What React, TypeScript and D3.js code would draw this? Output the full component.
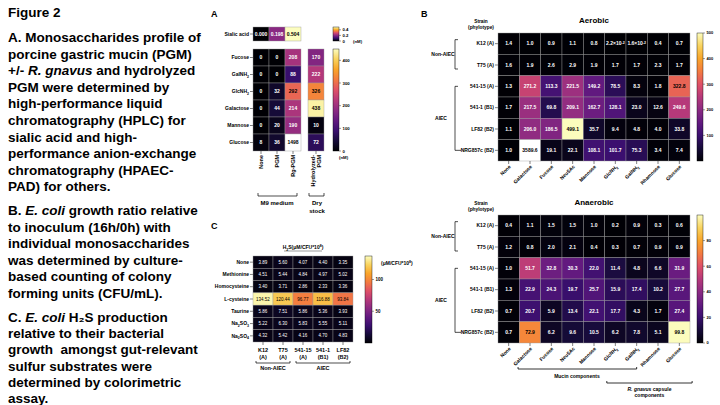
import React from 'react';
import * as d3 from 'd3';

const FONT = "'Liberation Sans', Arial, Helvetica, sans-serif";

// ---------- Left text ----------
const figTitle = 'Figure 2';
const textA = [
  'A. Monosaccharides profile of',
  'porcine gastric mucin (PGM)',
  '+/- ~R. gnavus~ and hydrolyzed',
  'PGM were determined by',
  'high-performance liquid',
  'chromatography (HPLC) for',
  'sialic acid and high-',
  'performance anion-exchange',
  'chromatography (HPAEC-',
  'PAD) for others.',
];
const textB = [
  'B. ~E. coli~ growth ratio relative',
  'to inoculum (16h/0h) with',
  'individual monosaccharides',
  'was determined by culture-',
  'based counting of colony',
  'forming units (CFU/mL).',
];
const textC = [
  'C. ~E. coli~ H₂S production',
  'relative to their bacterial',
  'growth  amongst gut-relevant',
  'sulfur substrates were',
  'determined by colorimetric',
  'assay.',
];

// ---------- Panel A ----------
const aCols = ['None', 'PGM', 'Rg-PGM'];
const aDryColLines = ['Hydrolyzed-', 'PGM'];
const aSialic = [0.0, 0.198, 0.504];
const aRows = ['Fucose', 'GalNH_2', 'GlcNH_2', 'Galactose', 'Mannose', 'Glucose'];
const aM9 = [
  [0, 0, 208],
  [0, 0, 88],
  [0, 32, 292],
  [0, 44, 214],
  [0, 20, 190],
  [8, 36, 1498],
];
const aDry = [170, 222, 326, 438, 10, 72];
const aTicks = [0, 100, 200, 300, 400];
const aSialicTicks = [0, 0.2, 0.4];
const aMax = 450;
const aSialicMax = 0.5;

// ---------- Panel B ----------
const bCols = ['None', 'Galactose', 'Fucose', 'Neu5Ac', 'Mannose', 'GlcNH_2', 'GalNH_2', 'Rhamnose', 'Glucose'];
const bRows = ['K12 (A)', 'T75 (A)', '541-15 (A)', '541-1 (B1)', 'LF82 (B2)', 'NRG857c (B2)'];
const bAerobic = [
  [1.4, 1.0, 0.9, 1.1, 0.8, 0.022, 0.016, 0.4, 0.7],
  [1.6, 1.9, 2.6, 2.9, 1.9, 1.7, 1.7, 2.3, 1.7],
  [1.3, 271.2, 113.3, 221.5, 149.2, 78.5, 8.3, 1.8, 322.8],
  [1.7, 217.5, 69.8, 209.1, 162.7, 128.1, 23.0, 12.6, 249.6],
  [1.1, 206.0, 186.5, 499.1, 35.7, 9.4, 4.8, 4.0, 33.8],
  [1.0, 3589.6, 19.1, 22.1, 108.1, 101.7, 75.3, 3.4, 7.4],
];
const bAnaerobic = [
  [0.4, 1.1, 1.5, 1.5, 1.0, 0.2, 0.9, 0.3, 0.6],
  [1.2, 0.8, 2.0, 2.1, 0.4, 0.3, 0.7, 0.9, 0.9],
  [1.0, 51.7, 32.8, 30.3, 22.0, 11.4, 4.8, 6.6, 31.9],
  [1.3, 22.9, 24.3, 19.7, 25.7, 15.9, 17.4, 10.2, 27.7],
  [0.7, 20.7, 5.9, 13.4, 22.1, 17.7, 4.3, 1.7, 27.4],
  [0.7, 72.9, 6.2, 9.6, 10.5, 6.2, 7.8, 5.1, 99.8],
];
const bAeroTicks = [100, 200, 300, 400, 500];
const bAnaeroTicks = [0, 20, 40, 60, 80];
const bAeroMax = 500;
const bAnaeroMax = 100;
const bGroups = [
  { label: 'Non-AIEC', from: 0, to: 1 },
  { label: 'AIEC', from: 2, to: 5 },
];

// ---------- Panel C ----------
const cCols = [['K12', '(A)'], ['T75', '(A)'], ['541-15', '(A)'], ['541-1', '(B1)'], ['LF82', '(B2)']];
const cRows = ['None', 'Methionine', 'Homocysteine', 'L-cysteine', 'Taurine', 'Na_2SO_3', 'Na_2SO_4'];
const cValues = [
  [3.89, 5.6, 4.07, 4.4, 3.35],
  [4.51, 5.44, 4.84, 4.97, 5.02],
  [3.4, 3.71, 2.86, 2.33, 3.36],
  [134.52, 120.44, 96.77, 116.88, 93.84],
  [5.86, 7.51, 5.86, 5.36, 3.93],
  [5.22, 6.3, 5.83, 5.55, 5.11],
  [4.32, 5.42, 4.16, 4.7, 4.83],
];
const cTicks = [50, 100];
const cMax = 137;
const cGroups = [
  { label: 'Non-AIEC', from: 0, to: 1 },
  { label: 'AIEC', from: 2, to: 4 },
];

// ---------- colour ----------
const paletteStops = ['#000004', '#160b39', '#3a0f6e', '#62197f', '#8b2a82', '#b6397a', '#df5167', '#f37b40', '#f9a52a', '#f9d35e', '#fcfdbf'];
const interp = d3.piecewise(d3.interpolateRgb, paletteStops);
function colorOf(v: number, max: number) {
  if (v > max * 1.2) return '#ffffff';
  return interp(Math.max(0, Math.min(1, v / max)));
}
function textColorOf(v: number, max: number) {
  return v / max > 0.6 ? '#000' : '#fff';
}

// rich text: ~ toggles italic, _n subscript, ^n superscript
function rich(s: string, fs: number) {
  const tokens = s.split(/(~|[_^]-?[0-9]+)/).filter((t) => t !== '');
  let italic = false;
  let shift = 0;
  const out: any[] = [];
  let k = 0;
  for (const t of tokens) {
    if (t === '~') {
      italic = !italic;
      continue;
    }
    if (t[0] === '_' || t[0] === '^') {
      const d = t[0] === '_' ? fs * 0.3 : -fs * 0.38;
      out.push(
        <tspan key={k++} dy={d - shift} fontSize={fs * 0.7} fontStyle={italic ? 'italic' : 'normal'}>
          {t.slice(1)}
        </tspan>
      );
      shift = d;
    } else {
      out.push(
        <tspan key={k++} dy={-shift} fontStyle={italic ? 'italic' : 'normal'}>
          {t}
        </tspan>
      );
      shift = 0;
    }
  }
  return out;
}

function fmtB(v: number) {
  if (v < 0.1) {
    const e = Math.floor(Math.log10(v));
    const m = v / Math.pow(10, e);
    return `${m.toFixed(1)}×10^${e}`;
  }
  return v.toFixed(1);
}

type HeatProps = {
  x: number;
  y: number;
  w: number;
  h: number;
  values: number[][];
  labels: string[][];
  max: number;
  fs: number;
  weight?: string;
};

function Heat({ x, y, w, h, values, labels, max, fs, weight = 'bold' }: HeatProps) {
  const nr = values.length;
  const nc = values[0].length;
  const xs = d3.scaleBand<number>().domain(d3.range(nc)).range([x, x + w]);
  const ys = d3.scaleBand<number>().domain(d3.range(nr)).range([y, y + h]);
  return (
    <g>
      {values.map((row, i) =>
        row.map((v, j) => (
          <rect
            key={`${i}-${j}`}
            x={xs(j)}
            y={ys(i)}
            width={xs.bandwidth()}
            height={ys.bandwidth()}
            fill={colorOf(v, max)}
            stroke="#9a9a9a"
            strokeWidth={0.4}
          />
        ))
      )}
      {values.map((row, i) =>
        row.map((v, j) => (
          <text
            key={`t${i}-${j}`}
            x={(xs(j) as number) + xs.bandwidth() / 2}
            y={(ys(i) as number) + ys.bandwidth() / 2 + fs * 0.35}
            fontSize={fs}
            fontWeight={weight}
            textAnchor="middle"
            fill={textColorOf(v, max)}
          >
            {rich(labels[i][j], fs)}
          </text>
        ))
      )}
    </g>
  );
}

function RowLabels({ x, y, h, rows, fs }: { x: number; y: number; h: number; rows: string[]; fs: number }) {
  const ys = d3.scaleBand<number>().domain(d3.range(rows.length)).range([y, y + h]);
  return (
    <g>
      {rows.map((r, i) => {
        const cy = (ys(i) as number) + ys.bandwidth() / 2;
        return (
          <g key={i}>
            <line x1={x - 3} x2={x} y1={cy} y2={cy} stroke="#000" strokeWidth={0.5} />
            <text x={x - 4} y={cy + fs * 0.35} fontSize={fs} fontWeight="bold" textAnchor="end">
              {rich(r, fs)}
            </text>
          </g>
        );
      })}
    </g>
  );
}

function ColorBar({
  id,
  x,
  y,
  w,
  h,
  max,
  ticks,
  fs,
  fmt,
}: {
  id: string;
  x: number;
  y: number;
  w: number;
  h: number;
  max: number;
  ticks: number[];
  fs: number;
  fmt: (v: number) => string;
}) {
  const s = d3.scaleLinear().domain([0, max]).range([y + h, y]);
  const stops = d3.range(0, 1.0001, 0.05);
  return (
    <g>
      <defs>
        <linearGradient id={id} x1="0" y1="1" x2="0" y2="0">
          {stops.map((t, i) => (
            <stop key={i} offset={t} stopColor={interp(t)} />
          ))}
        </linearGradient>
      </defs>
      <rect x={x} y={y} width={w} height={h} fill={`url(#${id})`} stroke="#000" strokeWidth={0.4} />
      {ticks.map((t, i) => (
        <g key={i}>
          <line x1={x + w} x2={x + w + 2} y1={s(t)} y2={s(t)} stroke="#000" strokeWidth={0.4} />
          <text x={x + w + 3.5} y={s(t) + fs * 0.35} fontSize={fs} fontWeight="bold">
            {fmt(t)}
          </text>
        </g>
      ))}
    </g>
  );
}

function PanelA() {
  const x0 = 253;
  const cw = 16;
  const sy = 27;
  const sh = 14;
  const my = 49;
  const mh = 102;
  const dx = 308;
  const fs = 5;
  const colCenters = d3.scaleBand<number>().domain(d3.range(3)).range([x0, x0 + 3 * cw]);
  return (
    <g>
      <text x={211} y={17} fontSize={9} fontWeight="bold">A</text>
      {/* sialic */}
      <RowLabels x={x0} y={sy} h={sh} rows={['Sialic acid']} fs={fs} />
      <Heat x={x0} y={sy} w={3 * cw} h={sh} values={[aSialic]} labels={[aSialic.map((v) => v.toFixed(3))]} max={aSialicMax} fs={fs} />
      <ColorBar id="gaS" x={333} y={sy} w={6} h={sh} max={aSialicMax} ticks={aSialicTicks} fs={4.3} fmt={(v) => (v === 0 ? '0' : v.toFixed(1))} />
      <text x={353} y={sy + sh + 1.5} fontSize={4.3} fontWeight="bold">(nM)</text>
      {/* main */}
      <RowLabels x={x0} y={my} h={mh} rows={aRows} fs={fs} />
      <Heat x={x0} y={my} w={3 * cw} h={mh} values={aM9} labels={aM9.map((r) => r.map((v) => String(v)))} max={aMax} fs={fs} />
      <Heat x={dx} y={my} w={cw} h={mh} values={aDry.map((v) => [v])} labels={aDry.map((v) => [String(v)])} max={aMax} fs={fs} />
      <ColorBar id="gaM" x={333} y={my} w={6} h={mh} max={aMax} ticks={aTicks} fs={4.3} fmt={(v) => String(v)} />
      <text x={339} y={my + mh + 8} fontSize={4.3} fontWeight="bold">(nM)</text>
      {/* column labels */}
      {aCols.map((c, j) => {
        const cx = (colCenters(j) as number) + cw / 2;
        return (
          <g key={j}>
            <line x1={cx} x2={cx} y1={my + mh} y2={my + mh + 3} stroke="#000" strokeWidth={0.5} />
            <text transform={`translate(${cx + 1.8},${my + mh + 4}) rotate(-90)`} fontSize={5.5} fontWeight="bold" textAnchor="end">
              {c}
            </text>
          </g>
        );
      })}
      <line x1={dx + cw / 2} x2={dx + cw / 2} y1={my + mh} y2={my + mh + 3} stroke="#000" strokeWidth={0.5} />
      {aDryColLines.map((l, k) => (
        <text key={k} transform={`translate(${dx + cw / 2 - 1 + k * 6},${my + mh + 4}) rotate(-90)`} fontSize={5.5} fontWeight="bold" textAnchor="end">
          {l}
        </text>
      ))}
      {/* brackets */}
      <path d={`M${x0 + 5},${193} L${x0 + 5},${196} L${x0 + 3 * cw - 4},${196} L${x0 + 3 * cw - 4},${193}`} fill="none" stroke="#000" strokeWidth={0.7} />
      <text x={x0 + 1.5 * cw} y={205} fontSize={6} fontWeight="bold" textAnchor="middle">M9 medium</text>
      <path d={`M${dx + 1},${193} L${dx + 1},${196} L${dx + cw},${196} L${dx + cw},${193}`} fill="none" stroke="#000" strokeWidth={0.7} />
      <text x={dx + cw / 2 + 1} y={205} fontSize={6} fontWeight="bold" textAnchor="middle">Dry</text>
      <text x={dx + cw / 2 + 1} y={213} fontSize={6} fontWeight="bold" textAnchor="middle">stock</text>
    </g>
  );
}

function PanelBBlock({
  top,
  title,
  values,
  max,
  ticks,
  id,
  showBottom,
}: {
  top: number;
  title: string;
  values: number[][];
  max: number;
  ticks: number[];
  id: string;
  showBottom: boolean;
}) {
  const x0 = 498;
  const w = 192;
  const h = 128;
  const fs = 5;
  const xs = d3.scaleBand<number>().domain(d3.range(bCols.length)).range([x0, x0 + w]);
  const ys = d3.scaleBand<number>().domain(d3.range(bRows.length)).range([top, top + h]);
  const rc = (i: number) => (ys(i) as number) + ys.bandwidth() / 2;
  const cc = (j: number) => (xs(j) as number) + xs.bandwidth() / 2;
  return (
    <g>
      <text x={x0 + w / 2} y={top - 10} fontSize={8} fontWeight="bold" textAnchor="middle">{title}</text>
      <text x={481} y={top - 10} fontSize={4.8} fontWeight="bold" textAnchor="middle">Strain</text>
      <text x={481} y={top - 4} fontSize={4.8} fontWeight="bold" textAnchor="middle">(phylotype)</text>
      <RowLabels x={x0} y={top} h={h} rows={bRows} fs={fs} />
      <Heat x={x0} y={top} w={w} h={h} values={values} labels={values.map((r) => r.map(fmtB))} max={max} fs={fs} />
      <ColorBar id={id} x={697} y={top} w={6} h={h} max={max} ticks={ticks} fs={4} fmt={(v) => String(v)} />
      {bGroups.map((g, k) => {
        const y1 = rc(g.from) - (k === 0 ? 4 : 0);
        const y2 = rc(g.to) + (k === 0 ? 4 : 0);
        const xe = k === 0 ? 458 : 461;
        return (
          <g key={k}>
            <path d={`M458,${y1} L455,${y1} L455,${y2} L${xe},${y2}`} fill="none" stroke="#000" strokeWidth={0.7} />
            <text x={k === 0 ? 443 : 441} y={(y1 + y2) / 2 + 2} fontSize={5} fontWeight="bold" textAnchor="middle">{g.label}</text>
          </g>
        );
      })}
      {bCols.map((c, j) => (
        <g key={j}>
          <line x1={cc(j)} x2={cc(j)} y1={top + h} y2={top + h + 3} stroke="#000" strokeWidth={0.5} />
          <text transform={`translate(${cc(j) + 2.5},${top + h + 6}) rotate(-45)`} fontSize={5} fontWeight="bold" textAnchor="end">
            {rich(c, 5)}
          </text>
        </g>
      ))}
      {showBottom && (
        <g>
          <path d={`M${x0 + 0.94 * xs.bandwidth()},${top + h + 26} L${x0 + 6.5 * xs.bandwidth()},${top + h + 26}`} stroke="#000" strokeWidth={0.8} />
          <line x1={x0 + 0.94 * xs.bandwidth()} x2={x0 + 0.94 * xs.bandwidth()} y1={top + h + 24} y2={top + h + 26} stroke="#000" strokeWidth={0.8} />
          <line x1={x0 + 6.5 * xs.bandwidth()} x2={x0 + 6.5 * xs.bandwidth()} y1={top + h + 24} y2={top + h + 26} stroke="#000" strokeWidth={0.8} />
          <text x={x0 + 3.7 * xs.bandwidth()} y={top + h + 35} fontSize={5} fontWeight="bold" textAnchor="middle">Mucin components</text>
          <path d={`M${x0 + 5.1 * xs.bandwidth()},${top + h + 38} L${x0 + 5.1 * xs.bandwidth()},${top + h + 40} L${x0 + 9.1 * xs.bandwidth()},${top + h + 40} L${x0 + 9.1 * xs.bandwidth()},${top + h + 38}`} fill="none" stroke="#000" strokeWidth={0.8} />
          <text x={x0 + 7.1 * xs.bandwidth()} y={top + h + 48} fontSize={5} fontWeight="bold" textAnchor="middle">
            {rich('~R. gnavus~ capsule', 5)}
          </text>
          <text x={x0 + 7.1 * xs.bandwidth()} y={top + h + 54} fontSize={5} fontWeight="bold" textAnchor="middle">components</text>
        </g>
      )}
    </g>
  );
}

function PanelC() {
  const x0 = 253;
  const w = 100;
  const top = 256;
  const h = 86;
  const xs = d3.scaleBand<number>().domain(d3.range(cCols.length)).range([x0, x0 + w]);
  const cc = (j: number) => (xs(j) as number) + xs.bandwidth() / 2;
  return (
    <g>
      <text x={211} y={229} fontSize={9} fontWeight="bold">C</text>
      <text x={x0 + w / 2} y={249} fontSize={5} fontWeight="bold" textAnchor="middle">
        {rich('H_2S(μM/CFU*10^8)', 5)}
      </text>
      <line x1={x0 + w / 2 - 19} x2={x0 + w / 2 + 19} y1={251} y2={251} stroke="#000" strokeWidth={0.4} />
      <RowLabels x={x0} y={top} h={h} rows={cRows} fs={5} />
      <Heat x={x0} y={top} w={w} h={h} values={cValues} labels={cValues.map((r) => r.map((v) => v.toFixed(2)))} max={cMax} fs={4.5} weight="normal" />
      <ColorBar id="gc" x={365} y={top} w={7} h={87} max={cMax} ticks={cTicks} fs={4.5} fmt={(v) => String(v)} />
      <text x={381} y={265} fontSize={5} fontWeight="bold">{rich('(μM/CFU*10^8)', 5)}</text>
      {cCols.map((c, j) => (
        <g key={j}>
          <line x1={cc(j)} x2={cc(j)} y1={top + h} y2={top + h + 3} stroke="#000" strokeWidth={0.5} />
          <text x={cc(j)} y={top + h + 10} fontSize={5.5} fontWeight="bold" textAnchor="middle">{c[0]}</text>
          <text x={cc(j)} y={top + h + 17} fontSize={5.5} fontWeight="bold" textAnchor="middle">{c[1]}</text>
        </g>
      ))}
      {cGroups.map((g, k) => {
        const x1 = (xs(g.from) as number) + 3;
        const x2 = (xs(g.to) as number) + xs.bandwidth() - 3;
        const yb = top + h + 21;
        return (
          <g key={k}>
            <path d={`M${x1},${yb - 2} L${x1},${yb} L${x2},${yb} L${x2},${yb - 2}`} fill="none" stroke="#000" strokeWidth={0.7} />
            <text x={(x1 + x2) / 2} y={yb + 7} fontSize={5.5} fontWeight="bold" textAnchor="middle">{g.label}</text>
          </g>
        );
      })}
    </g>
  );
}

function LeftText() {
  const fs = 13.5;
  return (
    <g fontSize={fs} fontWeight="bold">
      <text x={8} y={16.5}>{figTitle}</text>
      {textA.map((l, i) => (
        <text key={`a${i}`} x={8} y={42 + i * 16.6} style={{ whiteSpace: 'pre' }}>{rich(l, fs)}</text>
      ))}
      {textB.map((l, i) => (
        <text key={`b${i}`} x={8} y={215 + i * 16.6} style={{ whiteSpace: 'pre' }}>{rich(l, fs)}</text>
      ))}
      {textC.map((l, i) => (
        <text key={`c${i}`} x={8} y={322 + i * 16.2} style={{ whiteSpace: 'pre' }}>{rich(l, fs)}</text>
      ))}
    </g>
  );
}

export default function App() {
  return (
    <svg
      width={720}
      height={405}
      viewBox="0 0 720 405"
      style={{ position: 'absolute', left: 0, top: 0, background: '#fff' }}
      fontFamily={FONT}
    >
      <rect x={0} y={0} width={720} height={405} fill="#fff" />
      <LeftText />
      <PanelA />
      <text x={421} y={17} fontSize={9} fontWeight="bold">B</text>
      <PanelBBlock top={33} title="Aerobic" values={bAerobic} max={bAeroMax} ticks={bAeroTicks} id="gb1" showBottom={false} />
      <PanelBBlock top={215} title="Anaerobic" values={bAnaerobic} max={bAnaeroMax} ticks={bAnaeroTicks} id="gb2" showBottom={true} />
      <PanelC />
    </svg>
  );
}
